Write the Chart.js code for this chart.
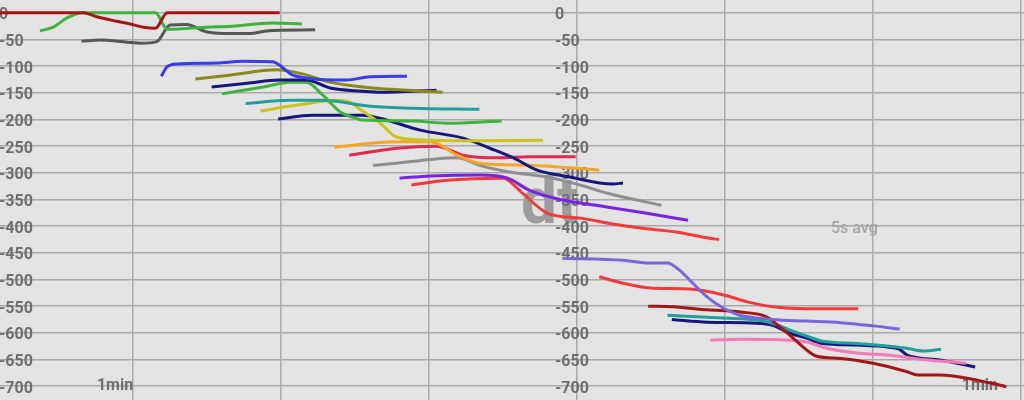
<!DOCTYPE html>
<html>
<head>
<meta charset="utf-8">
<script src="https://cdn.jsdelivr.net/npm/chart.js@4.4.1/dist/chart.umd.min.js"></script>
<style>
  html, body { margin: 0; padding: 0; background: #e3e3e3; }
  #wrap { width: 1024px; height: 400px; position: relative; }
</style>
</head>
<body>
<div id="wrap"><canvas id="grafico"></canvas></div>
<script>
// x = time (s), y = depth
const xTicks = [10, 20, 30, 40, 50, 60, 70];
const yTicks = [0, -50, -100, -150, -200, -250, -300, -350, -400, -450, -500, -550, -600, -650, -700];
const xLabelsCorner = ["1min", "1min"];

const darkRedA = [[1.0,0],[6.6,0],[7.6,-8],[8.9,-16],[9.8,-21],[10.7,-27],[11.5,-29],[12.3,0],[19.9,0]];
const greenA = [[3.7,-34],[4.6,-27],[5.5,-10],[6.6,0],[11.5,0],[12.3,-31],[15.0,-27],[16.7,-25],[19.4,-19],[21.4,-21]];
const grayA = [[6.5,-53],[7.8,-51],[9.6,-55],[10.5,-57],[11.6,-54],[12.3,-27],[12.5,-23],[13.6,-22],[15.0,-36],[16.7,-39],[17.9,-39],[19.0,-34],[22.3,-32]];
const blueA = [[11.9,-119],[12.3,-101],[13.0,-96],[15.7,-94],[17.4,-91],[19.4,-92],[20.8,-117],[21.9,-123],[24.4,-126],[26.0,-120],[28.5,-119]];
const oliveA = [[14.2,-124],[16.5,-117],[19.7,-107],[21.5,-115],[23.3,-130],[25.5,-139],[30.9,-149]];
const navyA = [[15.3,-139],[17.7,-132],[19.9,-126],[21.7,-126],[23.3,-141],[25.5,-147],[26.7,-149],[30.5,-145]];
const greenB = [[16.0,-152],[18.8,-139],[20.6,-130],[21.7,-130],[22.8,-154],[24.0,-186],[25.1,-198],[25.5,-201],[28.9,-203],[31.2,-207],[34.9,-203]];
const tealA = [[17.6,-170],[20.6,-164],[22.8,-164],[26.0,-175],[28.9,-179],[33.4,-181]];
const yellowA = [[18.6,-184],[21.1,-173],[23.8,-164],[24.6,-167],[25.5,-184],[26.7,-207],[27.8,-233],[30.1,-239],[33.4,-240],[37.7,-239]];
const navyB = [[19.8,-199],[22.1,-192],[25.5,-192],[27.1,-201],[29.4,-220],[32.3,-235],[34.1,-254],[35.7,-272],[37.3,-295],[39.5,-308],[42.4,-321],[43.1,-319]];
const orangeA = [[23.6,-252],[27.8,-242],[30.1,-242],[31.9,-267],[33.4,-282],[36.8,-286],[41.5,-295]];
const crimsonA = [[24.6,-267],[27.8,-254],[30.5,-250],[32.3,-267],[34.6,-272],[36.8,-270],[39.9,-270]];
const grayB = [[26.2,-286],[27.8,-282],[30.1,-275],[31.9,-272],[33.4,-286],[35.3,-298],[38.0,-308],[40.2,-323],[42.0,-338],[45.7,-361]];
const purpleA = [[28.0,-310],[30.1,-306],[33.4,-304],[35.3,-310],[36.8,-333],[39.0,-351],[41.3,-361],[44.7,-376],[47.5,-389]];
const redA = [[28.8,-323],[31.2,-314],[35.0,-310],[36.3,-338],[38.0,-376],[40.2,-385],[42.4,-396],[44.7,-405],[46.7,-411],[49.0,-423],[49.6,-425]];
const lavenderA = [[39.0,-460],[43.1,-464],[44.7,-469],[46.1,-469],[46.9,-482],[47.6,-501],[48.8,-533],[49.9,-554],[51.0,-567],[53.2,-575],[55.5,-578],[57.8,-581],[60.0,-587],[61.8,-593]];
const redB = [[41.5,-495],[43.1,-507],[44.9,-516],[47.6,-518],[49.9,-529],[51.5,-542],[53.2,-551],[55.5,-555],[59.0,-555]];
const darkRedB = [[44.8,-550],[46.5,-551],[48.8,-557],[51.0,-561],[52.8,-570],[53.7,-589],[54.6,-610],[55.5,-632],[56.2,-644],[57.8,-648],[60.0,-657],[62.3,-673],[63.0,-679],[64.5,-679],[66.7,-687],[69.0,-701]];
const tealB = [[46.1,-567],[48.8,-571],[52.1,-576],[53.2,-582],[54.4,-595],[55.5,-606],[56.6,-616],[58.9,-620],[61.1,-625],[62.3,-629],[63.4,-634],[64.6,-631]];
const navyC = [[46.4,-575],[48.8,-580],[52.1,-582],[53.2,-586],[54.4,-601],[55.5,-610],[56.6,-620],[58.9,-623],[61.1,-627],[61.8,-631],[62.3,-642],[64.5,-651],[66.9,-664]];
const pinkA = [[49.0,-614],[51.0,-612],[54.4,-614],[55.5,-617],[56.6,-627],[58.9,-638],[61.1,-642],[63.4,-650],[66.3,-657]];

const series = [
  [darkRedA, "#a31616"], [greenA, "#3db33d"], [grayA, "#575757"],
  [blueA, "#3a3af2"], [oliveA, "#8a8a1c"], [navyA, "#16167e"],
  [greenB, "#3db33d"], [tealA, "#229e9c"], [yellowA, "#c9c420"],
  [navyB, "#16167e"], [orangeA, "#f5a626"], [crimsonA, "#e0294d"],
  [grayB, "#8e8e8e"], [purpleA, "#7a22e6"], [redA, "#f23a3a"],
  [lavenderA, "#7867d6"], [redB, "#f23a3a"], [darkRedB, "#a31616"],
  [tealB, "#229e9c"], [pinkA, "#f27ab6"], [navyC, "#16167e"]
];

const textos = {
  id: "textos",
  beforeDatasetsDraw(chart) {
    const ctx = chart.ctx;
    const y = chart.scales.y;
    const x = chart.scales.x;
    ctx.save();
    // watermark
    ctx.fillStyle = "#9c9c9c";
    ctx.font = "bold 64px Roboto";
    ctx.textAlign = "left";
    ctx.textBaseline = "alphabetic";
    ctx.fillText("dt", 521, 223);
    ctx.font = "500 16px Roboto";
    ctx.fillStyle = "#a6a6a6";
    ctx.textBaseline = "middle";
    ctx.fillText("5s avg", 831, 229);
    // y tick labels, left and middle
    ctx.fillStyle = "#6e6e6e";
    ctx.font = "bold 16px Roboto";
    yTicks.forEach(v => {
      const py = y.getPixelForValue(v) + 2.5;
      ctx.fillText(String(v), -1, py);
      ctx.fillText(String(v), 555, py);
    });
    ctx.textAlign = "right";
    ctx.fillText(xLabelsCorner[0], x.getPixelForValue(10), 386);
    ctx.fillText(xLabelsCorner[1], 998, 386);
    ctx.restore();
  }
};

new Chart(document.getElementById("grafico"), {
  type: "line",
  data: {
    datasets: series.map(([pts, color]) => ({
      data: pts.map(p => ({ x: p[0], y: p[1] })),
      borderColor: color,
      borderWidth: 3,
      pointRadius: 0,
      cubicInterpolationMode: "monotone",
      fill: false
    }))
  },
  options: {
    responsive: true,
    maintainAspectRatio: false,
    animation: false,
    layout: { padding: 0 },
    plugins: { legend: { display: false }, tooltip: { enabled: false } },
    scales: {
      x: {
        type: "linear",
        min: 1.0,
        max: 70.2,
        afterBuildTicks: s => { s.ticks = xTicks.map(v => ({ value: v })); },
        ticks: { display: false },
        border: { display: false },
        grid: { color: "#a9a9a9", lineWidth: 1.5, drawTicks: false }
      },
      y: {
        min: -726,
        max: 24,
        afterBuildTicks: s => { s.ticks = yTicks.map(v => ({ value: v })); },
        ticks: { display: false },
        border: { display: false },
        grid: { color: "#a9a9a9", lineWidth: 1.5, drawTicks: false }
      }
    }
  },
  plugins: [textos]
});
</script>
</body>
</html>
